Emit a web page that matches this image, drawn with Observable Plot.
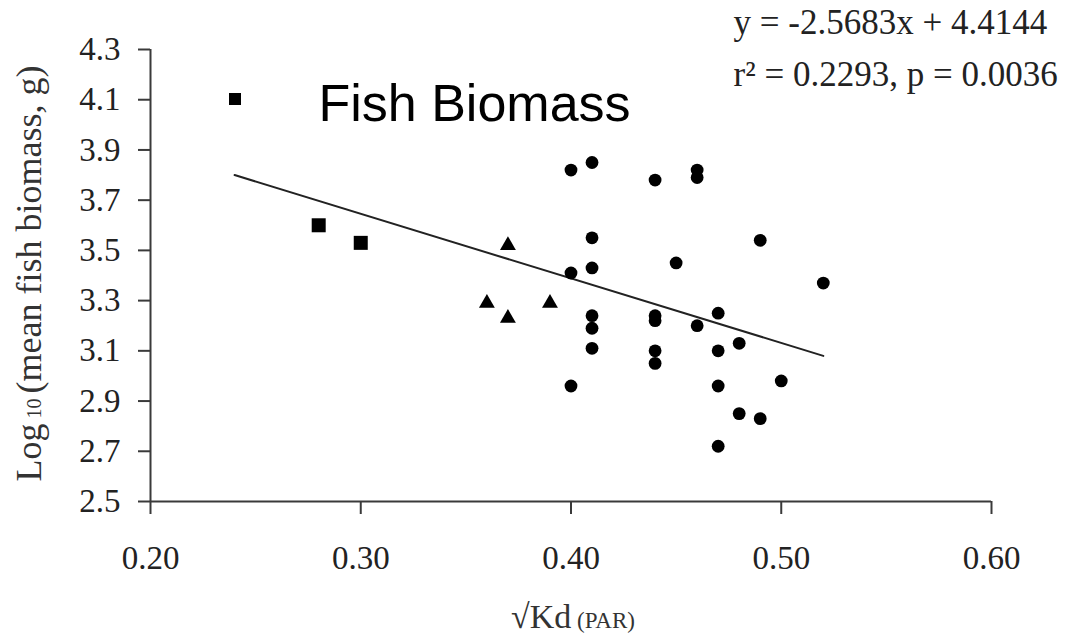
<!DOCTYPE html>
<html><head><meta charset="utf-8">
<script src="https://cdn.jsdelivr.net/npm/d3@7"></script>
<script src="https://cdn.jsdelivr.net/npm/@observablehq/plot@0.6"></script>
<style>body{margin:0;background:#fff}</style>
</head><body><div id="chart"></div>
<script>
const squareX = [0.28, 0.30];
const squareY = [3.60, 3.53];
const triangleX = [0.37, 0.36, 0.37, 0.39];
const triangleY = [3.52, 3.29, 3.23, 3.29];
const circleX = [0.40,0.41,0.44,0.46,0.46,0.41,0.49,0.52,0.45,0.40,0.41,0.41,0.41,0.41,0.44,0.44,0.44,0.44,0.46,0.47,0.47,0.48,0.47,0.50,0.48,0.49,0.47,0.40];
const circleY = [3.82,3.85,3.78,3.82,3.79,3.55,3.54,3.37,3.45,3.41,3.43,3.24,3.19,3.11,3.24,3.22,3.10,3.05,3.20,3.25,3.10,3.13,2.96,2.98,2.85,2.83,2.72,2.96];
const fitX = [0.24, 0.52];
const fitY = [3.80, 3.08];
const xTicks = [0.20, 0.30, 0.40, 0.50, 0.60];
const yTicks = [2.5, 2.7, 2.9, 3.1, 3.3, 3.5, 3.7, 3.9, 4.1, 4.3];
const equationLines = ["y = -2.5683x + 4.4144", "r\u00B2 = 0.2293, p = 0.0036"];
const legendLabel = "Fish Biomass";
const xLabelParts = ["\u221AKd", " (PAR)"];
const yLabelParts = ["Log", " 10 ", "(mean fish biomass, g)"];

const pts = (xs, ys) => xs.map((x, i) => ({x, y: ys[i]}));
const serif = "'Liberation Serif', 'Times New Roman', serif";
const axisColor = "#3a3a3a";

const chart = Plot.plot({
  width: 1071, height: 643,
  marginLeft: 150, marginRight: 80, marginTop: 49, marginBottom: 142,
  style: {fontFamily: serif, fontSize: "31px", color: "#222", background: "#fff", overflow: "visible"},
  x: {domain: [0.2, 0.6]},
  y: {domain: [2.5, 4.3]},
  marks: [
    Plot.axisX({ticks: xTicks, tickFormat: d => d.toFixed(2), tickSize: 13, tickPadding: 31, fontSize: 33, stroke: axisColor, strokeWidth: 2, label: null}),
    Plot.axisY({ticks: yTicks, tickFormat: d => d.toFixed(1), tickSize: 12, tickPadding: 18, fontSize: 33, stroke: axisColor, strokeWidth: 2, label: null}),
    Plot.ruleY([2.5], {stroke: axisColor, strokeWidth: 2}),
    Plot.ruleX([0.2], {stroke: axisColor, strokeWidth: 2}),
    Plot.line(pts(fitX, fitY), {x: "x", y: "y", stroke: "#222", strokeWidth: 2}),
    Plot.dot(pts(squareX, squareY), {x: "x", y: "y", symbol: "square", r: 7.9, fill: "#000", stroke: "none"}),
    Plot.dot(pts(triangleX, triangleY), {x: "x", y: "y", symbol: "triangle", r: 5.9, fill: "#000", stroke: "none"}),
    Plot.dot(pts(circleX, circleY), {x: "x", y: "y", symbol: "circle", r: 6.4, fill: "#000", stroke: "none"}),
    Plot.dot([legendLabel], {frameAnchor: "top-left", dx: 84.5, dy: 49.5, symbol: "square", r: 6.8, fill: "#000", stroke: "none"}),
    Plot.text([legendLabel], {frameAnchor: "top-left", dx: 168, dy: 71, text: d => d, textAnchor: "start", lineAnchor: "bottom", fontFamily: "'Liberation Sans', Arial, sans-serif", fontSize: 52, fill: "#000"}),
    Plot.text([equationLines[0]], {frameAnchor: "top-left", dx: 583, dy: -16, text: d => d, textAnchor: "start", lineAnchor: "bottom", fontSize: 35, fill: "#222"}),
    Plot.text([equationLines[1]], {frameAnchor: "top-left", dx: 583, dy: 36, text: d => d, textAnchor: "start", lineAnchor: "bottom", fontSize: 35, fill: "#222"}),
    Plot.text([yLabelParts.join("")], {frameAnchor: "left", dx: -121, dy: -2, rotate: -90, text: d => d, textAnchor: "middle", lineAnchor: "middle", fontSize: 36, fill: "#333"}),
    Plot.text([xLabelParts.join("")], {frameAnchor: "bottom", dx: 2, dy: 126, text: d => d, textAnchor: "middle", lineAnchor: "bottom", fontSize: 34, fill: "#333"})
  ]
});
document.getElementById("chart").appendChild(chart);

function splitText(parts, sizes) {
  const full = parts.join("");
  const t = Array.from(chart.querySelectorAll("text")).find(e => e.textContent === full);
  if (!t) return;
  t.textContent = "";
  parts.forEach((p, i) => {
    const ts = document.createElementNS("http://www.w3.org/2000/svg", "tspan");
    ts.textContent = p;
    if (sizes[i]) ts.setAttribute("font-size", sizes[i]);
    t.appendChild(ts);
  });
}
splitText(yLabelParts, [null, 20, null]);
splitText(xLabelParts, [null, 23]);
</script>
</body></html>
